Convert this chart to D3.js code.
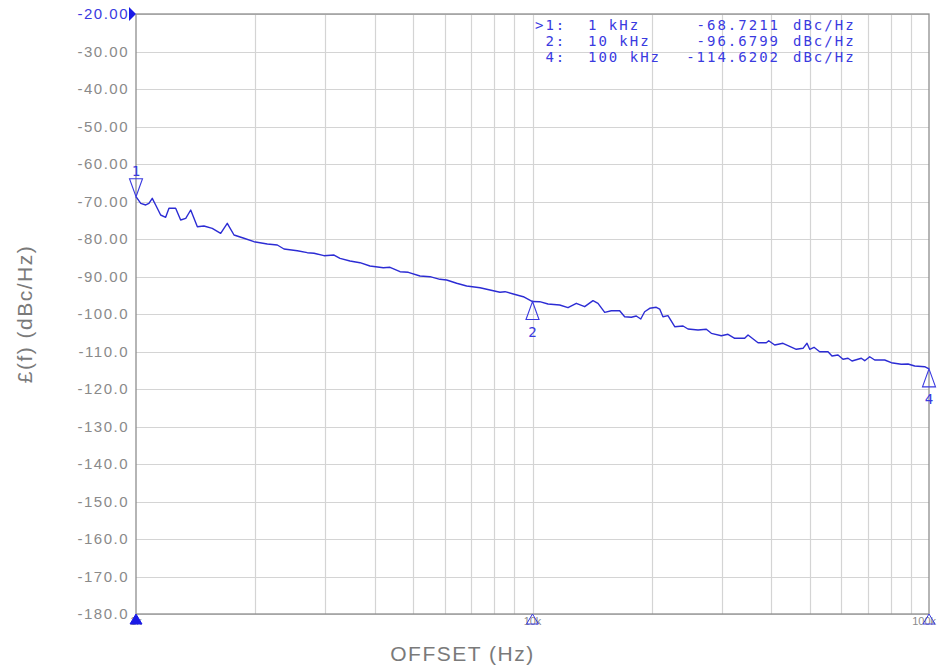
<!DOCTYPE html>
<html>
<head>
<meta charset="utf-8">
<script src="https://cdn.jsdelivr.net/npm/d3@7"></script>
<style>
  html, body { margin: 0; padding: 0; background: #fff; }
  svg { display: block; }
</style>
</head>
<body>
<svg id="chart" width="938" height="667"></svg>
<script>
// ---- data ----
const freqHz = [1000, 1028, 1058, 1078, 1099, 1121, 1154, 1188, 1211, 1259, 1296, 1335, 1374, 1428, 1484, 1557, 1635, 1699, 1767, 1872, 1984, 2144, 2272, 2362, 2552, 2704, 2812, 2979, 3158, 3270, 3465, 3672, 3891, 4205, 4372, 4633, 4862, 5203, 5514, 5843, 6075, 6438, 6823, 7374, 7813, 8280, 8524, 8945, 9480, 10000,
  10427, 10942, 11712, 12290, 12897, 13540, 14209, 14628, 15209, 15800, 16590, 17080, 17750, 18270, 18750, 19180, 19750, 20520, 20930, 21330, 21960, 22840, 23970, 24670, 26150, 27440, 28250, 29940, 31120, 32360, 34290, 34960, 37050, 38880, 39420, 40820, 42830, 46270, 48110, 49240, 50020, 51280, 53010, 55630, 56930, 58950, 60690, 62480, 63950, 67500, 68850, 70870, 72960, 77320, 80340, 85140, 88520, 92040, 97520, 100000];
const phaseNoise = [-68.72, -70.48, -70.93, -70.48, -69.15, -70.93, -73.60, -74.21, -71.81, -71.81, -74.93, -74.48, -72.27, -76.72, -76.53, -77.15, -78.48, -75.81, -78.93, -79.81, -80.72, -81.33, -81.60, -82.67, -83.12, -83.65, -83.81, -84.45, -84.27, -85.15, -85.87, -86.32, -87.20, -87.65, -87.55, -88.72, -88.88, -89.87, -90.05, -90.75, -90.93, -91.81, -92.53, -92.99, -93.60, -94.21, -94.05, -94.67, -95.39, -96.68,
  -96.72, -97.33, -97.60, -98.32, -97.15, -98.05, -96.45, -97.15, -99.55, -99.12, -99.12, -100.72, -100.88, -100.53, -101.33, -99.39, -98.48, -98.21, -98.67, -100.72, -100.45, -103.39, -103.20, -104.00, -104.27, -104.08, -105.15, -105.79, -105.41, -106.48, -106.48, -105.60, -107.65, -107.65, -107.12, -108.27, -107.81, -109.41, -109.15, -107.81, -109.41, -108.88, -110.05, -110.05, -111.20, -110.93, -112.08, -111.81, -112.53, -111.81, -112.45, -111.39, -112.27, -112.27, -112.99, -113.41, -113.33, -113.87, -114.05, -114.62];

const yTickValues = [-20, -30, -40, -50, -60, -70, -80, -90, -100, -110, -120, -130, -140, -150, -160, -170, -180];
const yTickLabels = ["-20.00", "-30.00", "-40.00", "-50.00", "-60.00", "-70.00", "-80.00", "-90.00", "-100.0", "-110.0", "-120.0", "-130.0", "-140.0", "-150.0", "-160.0", "-170.0", "-180.0"];
const xGridValues = [2000, 3000, 4000, 5000, 6000, 7000, 8000, 9000, 10000, 20000, 30000, 40000, 50000, 60000, 70000, 80000, 90000];
const xTickValues = [1000, 10000, 100000];
const xTickLabels = ["1k", "10k", "100k"];

const markerIds = ["1", "2", "4"];
const markerFreqs = [1000, 10000, 100000];
const markerValues = [-68.7211, -96.6799, -114.6202];
const markerRowLabels = [">1:", " 2:", " 4:"];
const markerRowFreqs = ["1 kHz", "10 kHz", "100 kHz"];
const markerRowValues = ["-68.7211", "-96.6799", "-114.6202"];
const markerUnit = "dBc/Hz";

const xTitle = "OFFSET (Hz)";
const yTitle = "£(f) (dBc/Hz)";

// ---- layout ----
const L = 136, R = 929, T = 14, B = 614;
const blue = "#2c2cd4";
const textBlue = "#3a3ae0";
const gridCol = "#d4d4d4";
const frameCol = "#8e8e8e";
const labelCol = "#8a8a8a";

const svg = d3.select("#chart");
const x = d3.scaleLog().domain([1000, 100000]).range([L, R]);
const y = d3.scaleLinear().domain([-180, -20]).range([B, T]);

// grid
const g = svg.append("g");
g.selectAll("line.hg").data(yTickValues).join("line")
  .attr("x1", L).attr("x2", R)
  .attr("y1", d => Math.round(y(d)) + 0.5).attr("y2", d => Math.round(y(d)) + 0.5)
  .attr("stroke", gridCol).attr("stroke-width", 1.2);
g.selectAll("line.vg").data(xGridValues).join("line")
  .attr("x1", d => Math.round(x(d)) + 0.5).attr("x2", d => Math.round(x(d)) + 0.5)
  .attr("y1", T).attr("y2", B)
  .attr("stroke", gridCol).attr("stroke-width", 1.2);

// frame
svg.append("rect").attr("x", L).attr("y", T).attr("width", R - L).attr("height", B - T)
  .attr("fill", "none").attr("stroke", frameCol).attr("stroke-width", 1.3);

// y tick labels
svg.append("g").selectAll("text").data(yTickValues).join("text")
  .attr("x", 129).attr("y", d => y(d))
  .attr("dy", "0.36em")
  .attr("text-anchor", "end")
  .attr("font-family", "Liberation Sans, Arial, sans-serif")
  .attr("font-size", 15)
  .attr("letter-spacing", "1.5px")
  .attr("fill", (d, i) => i === 0 ? textBlue : labelCol)
  .text((d, i) => yTickLabels[i]);

// reference level arrow
svg.append("path")
  .attr("d", `M${L - 7},${y(-20) - 7} L${L},${y(-20)} L${L - 7},${y(-20) + 7} Z`)
  .attr("fill", "#1a1ae6");

// x tick labels
svg.append("g").selectAll("text").data(xTickValues).join("text")
  .attr("x", (d, i) => i === 2 ? 936 : x(d)).attr("y", 625)
  .attr("text-anchor", (d, i) => i === 2 ? "end" : "middle")
  .attr("font-family", "Liberation Sans, Arial, sans-serif")
  .attr("font-size", 11)
  .attr("fill", labelCol)
  .text((d, i) => xTickLabels[i]);

// axis titles
svg.append("text")
  .attr("x", (L + R) / 2 - 70).attr("y", 661)
  .attr("text-anchor", "middle")
  .attr("font-family", "Liberation Sans, Arial, sans-serif")
  .attr("font-size", 21).attr("letter-spacing", "1.5px")
  .attr("fill", "#7a7a7a").text(xTitle);
svg.append("text")
  .attr("transform", `translate(32,${(T + B) / 2}) rotate(-90)`)
  .attr("text-anchor", "middle")
  .attr("font-family", "Liberation Sans, Arial, sans-serif")
  .attr("font-size", 21).attr("letter-spacing", "1.5px")
  .attr("fill", "#7a7a7a").text(yTitle);

// trace
const line = d3.line().x(d => x(d[0])).y(d => y(d[1]));
svg.append("path")
  .datum(freqHz.map((f, i) => [f, phaseNoise[i]]))
  .attr("d", line)
  .attr("fill", "none").attr("stroke", blue).attr("stroke-width", 1.4)
  .attr("stroke-linejoin", "round");

// bottom stimulus markers
svg.append("g").selectAll("path").data(markerFreqs).join("path")
  .attr("d", d => { const cx = x(d); return `M${cx},${B} L${cx + 6},${B + 10} L${cx - 6},${B + 10} Z`; })
  .attr("fill", (d, i) => i === 0 ? "#1a1ae6" : "none")
  .attr("stroke", (d, i) => i === 0 ? "#1a1ae6" : textBlue)
  .attr("stroke-width", 1);

// markers on trace
const mk = svg.append("g");
markerFreqs.forEach((f, i) => {
  const cx = x(f), cy = y(markerValues[i]);
  const down = i === 0;
  const h = 18, w = 6.5;
  const d = down
    ? `M${cx},${cy} L${cx + w},${cy - h} L${cx - w},${cy - h} Z`
    : `M${cx},${cy} L${cx + w},${cy + h} L${cx - w},${cy + h} Z`;
  mk.append("path").attr("d", d).attr("fill", "none").attr("stroke", textBlue).attr("stroke-width", 1.1);
  mk.append("text")
    .attr("x", cx).attr("y", down ? cy - h - 3 : cy + h + 17)
    .attr("text-anchor", "middle")
    .attr("font-family", "DejaVu Sans Mono, monospace")
    .attr("font-size", 14)
    .attr("fill", textBlue)
    .text(markerIds[i]);
});

// marker readout table
const tbl = svg.append("g")
  .attr("font-family", "DejaVu Sans Mono, monospace")
  .attr("font-size", 14)
  .attr("letter-spacing", "2px")
  .attr("fill", textBlue)
  .style("white-space", "pre");
const rowY = [30, 46, 62];
markerRowLabels.forEach((lab, i) => {
  tbl.append("text").attr("x", 535).attr("y", rowY[i]).attr("xml:space", "preserve").text(lab);
  tbl.append("text").attr("x", 588).attr("y", rowY[i]).text(markerRowFreqs[i]);
  tbl.append("text").attr("x", 780).attr("y", rowY[i]).attr("text-anchor", "end").text(markerRowValues[i]);
  tbl.append("text").attr("x", 793).attr("y", rowY[i]).text(markerUnit);
});
</script>
</body>
</html>
